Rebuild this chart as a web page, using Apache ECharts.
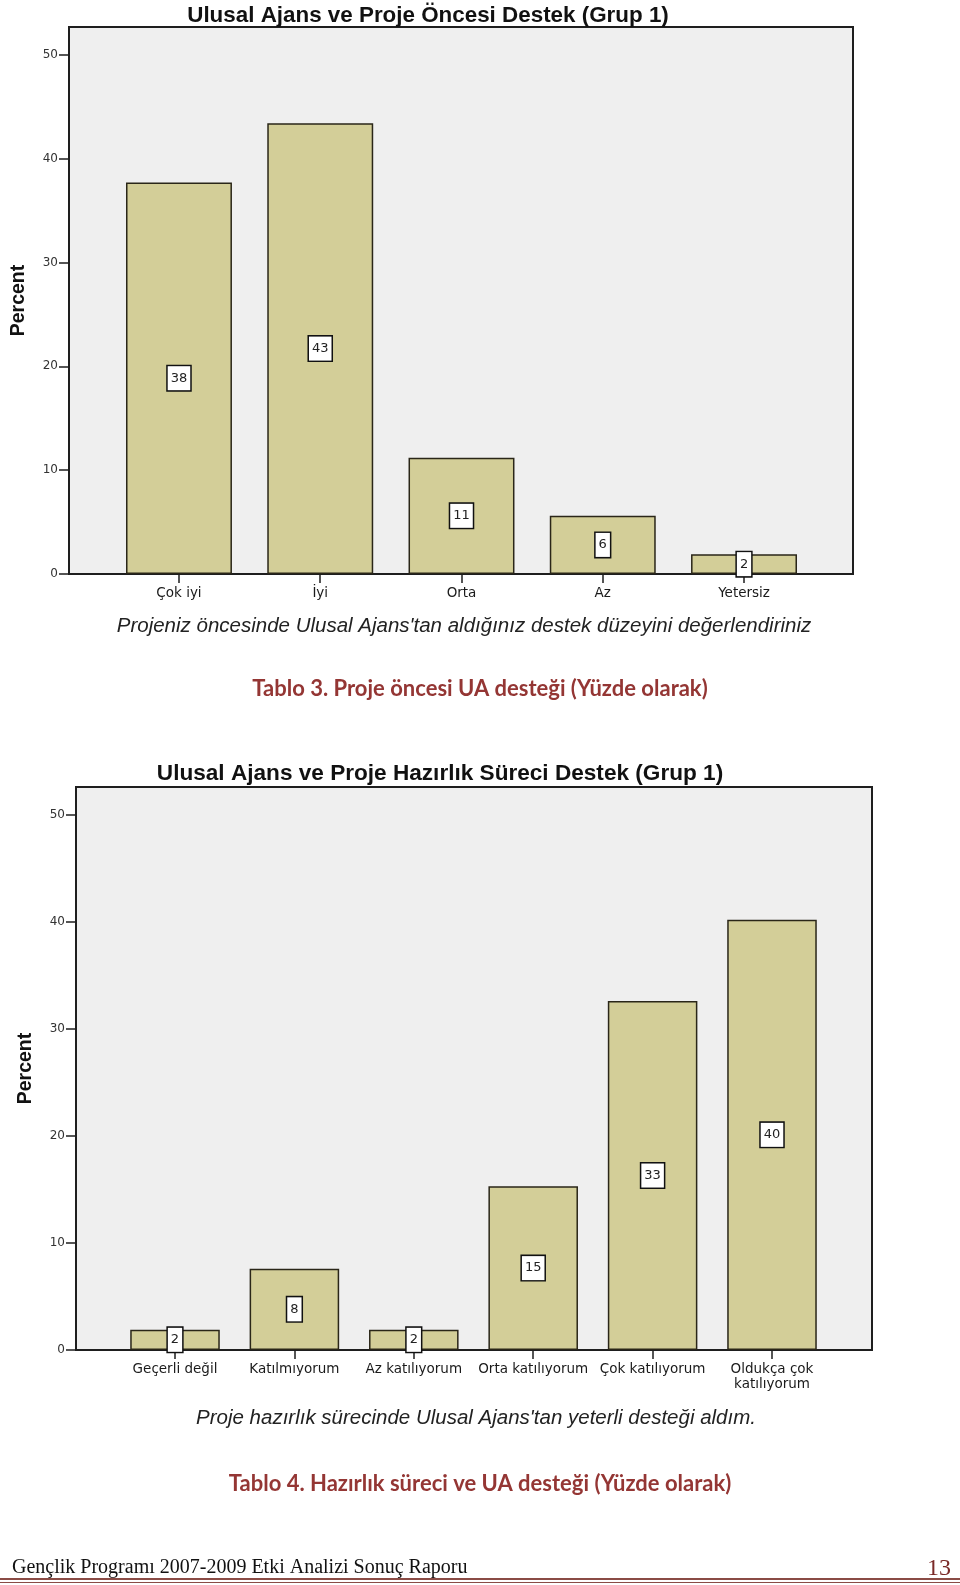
<!DOCTYPE html>
<html>
<head>
<meta charset="utf-8">
<script src="https://cdn.jsdelivr.net/npm/echarts@6/dist/echarts.min.js"></script>
<style>
html,body{margin:0;padding:0;background:#fff;}
#chart{width:960px;height:1585px;}
</style>
</head>
<body>
<div id="chart"></div>
<script>
// ---- Data ----
const title1 = 'Ulusal Ajans ve Proje Öncesi Destek (Grup 1)';
const categories1 = ['Çok iyi', 'İyi', 'Orta', 'Az', 'Yetersiz'];
const values1 = [37.7, 43.4, 11.2, 5.6, 1.9];
const xName1 = "Projeniz öncesinde Ulusal Ajans'tan aldığınız destek düzeyini değerlendiriniz";
const caption1 = 'Tablo 3. Proje öncesi UA desteği (Yüzde olarak)';

const title2 = 'Ulusal Ajans ve Proje Hazırlık Süreci Destek (Grup 1)';
const categories2 = ['Geçerli değil', 'Katılmıyorum', 'Az katılıyorum', 'Orta katılıyorum', 'Çok katılıyorum', 'Oldukça çok\nkatılıyorum'];
const values2 = [1.9, 7.6, 1.9, 15.3, 32.6, 40.2];
const xName2 = "Proje hazırlık sürecinde Ulusal Ajans'tan yeterli desteği aldım.";
const caption2 = 'Tablo 4. Hazırlık süreci ve UA desteği (Yüzde olarak)';

const yTicks = [0, 10, 20, 30, 40, 50];
const yName = 'Percent';
const footerText = 'Gençlik Programı 2007-2009 Etki Analizi Sonuç Raporu';
const pageNumber = '13';

// ---- Styles ----
const BAR = '#d3ce98';
const EDGE = '#2a2618';
const PLOTBG = '#efefef';
const AXIS = '#1e1e1e';
const CAPTION = '#943634';
const sans = 'Liberation Sans, Arial, sans-serif';
const labelFont = 'DejaVu Sans, sans-serif';

function frameGrid(left, top, width, height) {
  return { left, top, width, height, show: true, backgroundColor: PLOTBG, borderColor: AXIS, borderWidth: 2, containLabel: false };
}
function barGrid(left, top, width, height) {
  return { left, top, width, height, containLabel: false };
}
function hiddenX(gi) { return { type: 'value', gridIndex: gi, show: false, min: 0, max: 1 }; }
function hiddenY(gi) { return { type: 'value', gridIndex: gi, show: false, min: 0, max: 1 }; }

function catAxis(gi, cats, xname, gap) {
  return {
    type: 'category', gridIndex: gi, data: cats,
    axisLine: { show: false },
    axisTick: { show: true, alignWithLabel: true, length: 9, lineStyle: { color: AXIS, width: 1.5 } },
    axisLabel: { color: '#1a1a1a', fontFamily: labelFont, fontSize: 13.5, margin: 12, lineHeight: 15, interval: 0 },
    name: xname, nameLocation: 'middle', nameGap: gap,
    nameTextStyle: { fontFamily: sans, fontStyle: 'italic', fontSize: 20.5, color: '#222', padding: [0, 0, 0, 5] }
  };
}
function valAxis(gi, max, offset, gap) {
  return {
    type: 'value', gridIndex: gi, min: 0, max: max, offset: offset,
    axisLine: { show: false },
    axisTick: { show: true, length: 10, customValues: yTicks, lineStyle: { color: AXIS, width: 1.5 } },
    axisLabel: { customValues: yTicks, color: '#333', fontFamily: labelFont, fontSize: 12, margin: 11, padding: [5, 0, 0, 0] },
    splitLine: { show: false },
    name: yName, nameLocation: 'middle', nameGap: gap, nameRotate: 90,
    nameTextStyle: { fontFamily: sans, fontWeight: 'bold', fontSize: 19.5, color: '#111' }
  };
}
function barSeries(xi, yi, vals) {
  return {
    type: 'bar', xAxisIndex: xi, yAxisIndex: yi, data: vals, barWidth: '75%',
    itemStyle: { color: BAR, borderColor: EDGE, borderWidth: 1.5 },
    label: {
      show: true, position: 'inside',
      formatter: p => String(Math.round(p.value)),
      color: '#222', fontFamily: labelFont, fontSize: 13,
      backgroundColor: '#fff', borderColor: '#111', borderWidth: 1.5, padding: [6, 3, 5, 3]
    },
    silent: true, animation: false
  };
}

const chart = echarts.init(document.getElementById('chart'), null, { renderer: 'canvas' });
chart.setOption({
  backgroundColor: '#fff',
  animation: false,
  title: [
    { text: title1, left: 423, top: 0, textAlign: 'center', textStyle: { fontFamily: sans, fontWeight: 'bold', fontSize: 22.4, color: '#111' } },
    { text: caption1, left: 475, top: 673, textAlign: 'center', textStyle: { fontFamily: 'Lato, sans-serif', fontWeight: 'bold', fontSize: 22, color: CAPTION } },
    { text: title2, left: 435, top: 757, textAlign: 'center', textStyle: { fontFamily: sans, fontWeight: 'bold', fontSize: 22.6, color: '#111' } },
    { text: caption2, left: 475, top: 1468, textAlign: 'center', textStyle: { fontFamily: 'Lato, sans-serif', fontWeight: 'bold', fontSize: 22, color: CAPTION } },
    { text: footerText, left: 7, top: 1553, textStyle: { fontFamily: 'Liberation Serif, serif', fontWeight: 'normal', fontSize: 20, color: '#111' } },
    { text: pageNumber, right: 4, top: 1552, textStyle: { fontFamily: 'Liberation Serif, serif', fontWeight: 'normal', fontSize: 24, color: '#7a2a28' } }
  ],
  grid: [
    frameGrid(69, 27, 784, 547),
    barGrid(108.35, 27, 706.3, 547),
    frameGrid(76, 787, 796, 563),
    barGrid(115.3, 787, 716.4, 563)
  ],
  xAxis: [
    hiddenX(0),
    catAxis(1, categories1, xName1, 42),
    hiddenX(2),
    catAxis(3, categories2, xName2, 58)
  ],
  yAxis: [
    hiddenY(0),
    valAxis(1, 52.66, 39.35, 40),
    hiddenY(2),
    valAxis(3, 52.6, 39.3, 40)
  ],
  series: [
    barSeries(1, 1, values1),
    barSeries(3, 3, values2)
  ],
  graphic: [
    { type: 'line', shape: { x1: 0, y1: 1579, x2: 960, y2: 1579 }, style: { stroke: '#8a4b45', lineWidth: 2 } },
    { type: 'line', shape: { x1: 0, y1: 1582.5, x2: 960, y2: 1582.5 }, style: { stroke: '#8a4b45', lineWidth: 1 } }
  ]
});
</script>
</body>
</html>
